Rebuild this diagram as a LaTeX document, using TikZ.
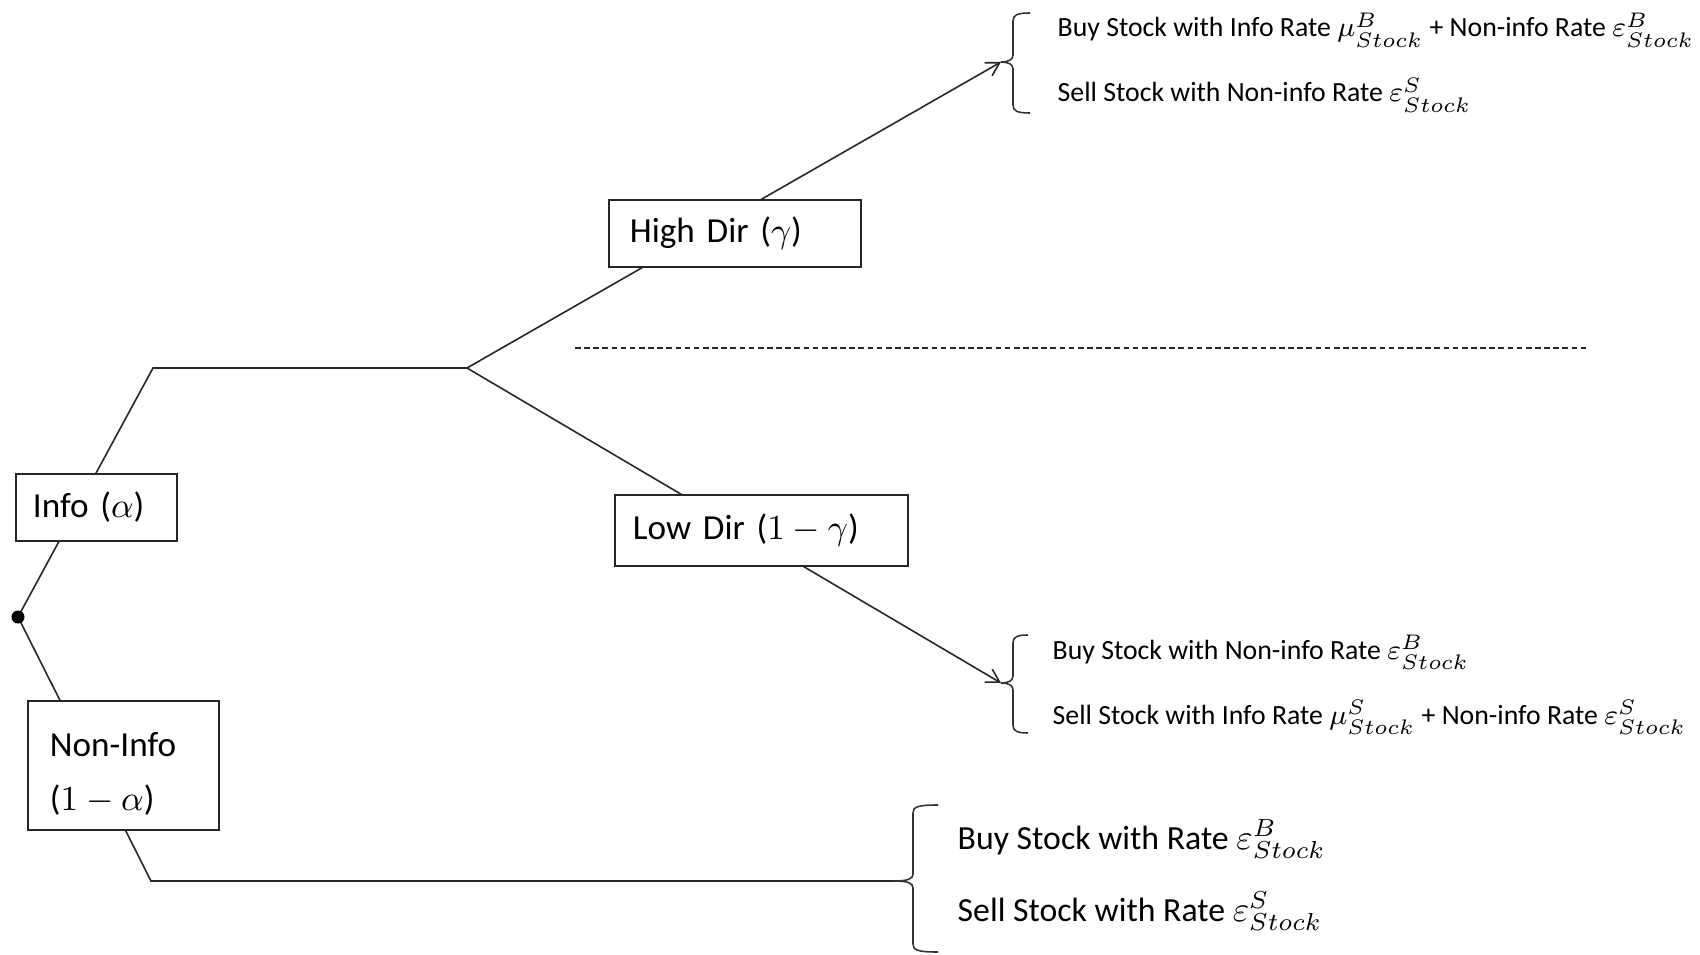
\documentclass[tikz,border=0pt]{standalone}
\usepackage{fontspec}
\setmainfont{Carlito}
\usetikzlibrary{arrows.meta}

\newcommand{\boxfont}{\fontsize{10}{15.5}\selectfont}
\newcommand{\rowfont}{\fontsize{9.6}{12}\selectfont}
\newcommand{\listfont}{\fontsize{7.9}{9.5}\selectfont}

% Curly bracket opening to the right:
% #1 cusp x, #2 spine x, #3 hook end x, #4 top y, #5 middle y, #6 bottom y
\newcommand{\drawbrace}[6]{%
  \draw[brc] (#3,#4) .. controls (#2+4,#4) and (#2,#4+2) .. (#2,#4+8)
    -- (#2,#5-7) .. controls (#2,#5-2) and (#2-5,#5) .. (#1,#5)
    .. controls (#2-5,#5) and (#2,#5+2) .. (#2,#5+7)
    -- (#2,#6-8) .. controls (#2,#6-2) and (#2+4,#6) .. (#3,#6);}

\begin{document}
\begin{tikzpicture}[x=0.01cm,y=-0.01cm,
  line/.style={draw=black!85, line width=0.45pt},
  arr/.style={line, -{Straight Barb[length=1.3mm,width=1.5mm]}},
  brc/.style={draw=black!80, line width=0.45pt},
  box/.style n args={3}{draw=black!85, line width=0.5pt, fill=white,
    align=left, inner xsep=#1, inner ysep=0pt, text width=#2,
    minimum height=#3, font=\boxfont},
  lst/.style={anchor=base west, inner sep=0pt, font=\listfont},
  lstbig/.style={anchor=base west, inner sep=0pt, font=\rowfont},
  dot/.style={circle, fill=black, inner sep=0pt, minimum size=0.13cm}]

\useasboundingbox[fill=white] (0,0) rectangle (1700,955);

% branching points of the tree
\coordinate (root) at (18,617);
\coordinate (infoTurn) at (153,368);
\coordinate (split) at (467,368);
\coordinate (nonTurn) at (151,881);
\coordinate (hiCusp) at (1001,62);
\coordinate (loCusp) at (1001,683);
\coordinate (nonCusp) at (893,881);
\coordinate (sepL) at (575,348);
\coordinate (sepR) at (1588,348);

% connectors
\draw[line] (root) -- (infoTurn) -- (split);
\draw[arr] (split) -- (hiCusp);
\draw[arr] (split) -- (loCusp);
\draw[line] (root) -- (nonTurn) -- (nonCusp);
\draw[line, dash pattern=on 1.6pt off 1pt] (sepL) -- (sepR);

% decision boxes
\node[dot] (start) at (root) {};
\node[box={0.17cm}{1.27cm}{0.67cm}] (info) at (96.5,507.5) {Info ($\alpha$)};
\node[box={0.22cm}{1.47cm}{1.29cm}] (noninfo) at (123.5,765.5) {\rule{0pt}{11.5pt}Non-Info\\($1-\alpha$)};
\node[box={0.21cm}{2.10cm}{0.67cm}] (high) at (735,233.5) {High Dir ($\gamma$)};
\node[box={0.18cm}{2.57cm}{0.71cm}] (low) at (761.5,530.5) {Low Dir ($1-\gamma$)};

% brackets
\drawbrace{1001}{1013}{1030}{13}{62}{113}
\drawbrace{1001}{1013}{1028}{635}{683}{733}
\drawbrace{893}{913}{938}{805}{881}{952}

% outcomes
\node[lst] (hiBuy) at (1057,37) {Buy Stock with Info Rate $\mu^{B}_{Stock}$ + Non-info Rate $\varepsilon^{B}_{Stock}$};
\node[lst] (hiSell) at (1057,102) {Sell Stock with Non-info Rate $\varepsilon^{S}_{Stock}$};
\node[lst] (loBuy) at (1052,659) {Buy Stock with Non-info Rate $\varepsilon^{B}_{Stock}$};
\node[lst] (loSell) at (1052,724) {Sell Stock with Info Rate $\mu^{S}_{Stock}$ + Non-info Rate $\varepsilon^{S}_{Stock}$};
\node[lstbig] (nBuy) at (957,849) {Buy Stock with Rate $\varepsilon^{B}_{Stock}$};
\node[lstbig] (nSell) at (957,921) {Sell Stock with Rate $\varepsilon^{S}_{Stock}$};
\end{tikzpicture}
\end{document}
